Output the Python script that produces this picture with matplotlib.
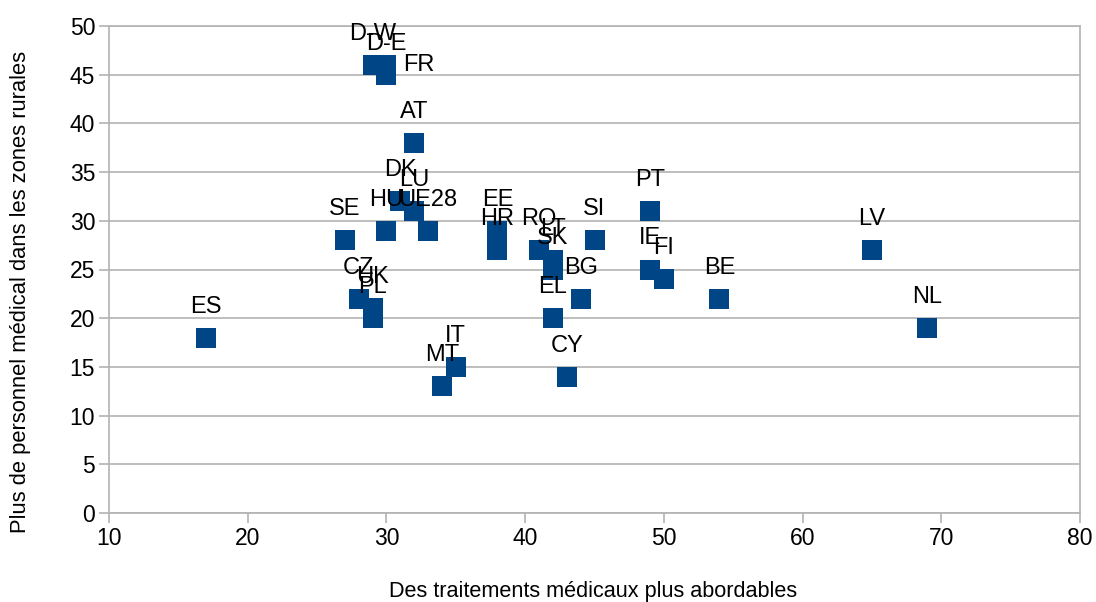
import matplotlib
matplotlib.use('Agg')
from matplotlib import pyplot as plt

plt.rcParams['font.family'] = ['Liberation Sans', 'DejaVu Sans']

# country codes with (affordable treatment, rural medical staff)
countries = ['ES', 'D-W', 'D-E', 'FR', 'AT', 'DK', 'LU', 'HU', 'UE28', 'SE',
             'CZ', 'UK', 'PL', 'MT', 'IT', 'EE', 'HR', 'RO', 'LT', 'SK',
             'EL', 'CY', 'BG', 'SI', 'PT', 'IE', 'FI', 'BE', 'LV', 'NL']
x_vals = [17, 29, 30, 30, 32, 31, 32, 30, 33, 27,
          28, 29, 29, 34, 35, 38, 38, 41, 42, 42,
          42, 43, 44, 45, 49, 49, 50, 54, 65, 69]
y_vals = [18, 46, 45, 46, 38, 32, 31, 29, 29, 28,
          22, 21, 20, 13, 15, 29, 27, 27, 26, 25,
          20, 14, 22, 28, 31, 25, 24, 22, 27, 19]

GRID = '#b3b3b3'
BLUE = '#004586'

fig = plt.figure(figsize=(10.96, 6.02), dpi=100)
ax = fig.add_axes([109 / 1096, 89 / 602, 971 / 1096, 487 / 602])

ax.scatter(x_vals, y_vals, marker='s', s=13.7 ** 2, color=BLUE,
           linewidths=0, zorder=3)

for name, x, y in zip(countries, x_vals, y_vals):
    if name == 'FR':
        # this label sits to the right of its point
        ax.annotate(name, (x, y), xytext=(17, 0), textcoords='offset pixels',
                    ha='left', va='center', fontsize=17, zorder=4)
    else:
        ax.annotate(name, (x, y), xytext=(0, 31), textcoords='offset pixels',
                    ha='center', va='center', fontsize=17, zorder=4)

ax.set_xlim(10, 80)
ax.set_ylim(0, 50)
ax.set_xticks(range(10, 81, 10))
ax.set_yticks(range(0, 51, 5))
ax.grid(axis='y', color=GRID, linewidth=1.2)
ax.set_axisbelow(True)
for side in ['left', 'bottom', 'right', 'top']:
    ax.spines[side].set_color(GRID)
    ax.spines[side].set_linewidth(1.2)
ax.tick_params(axis='both', colors=GRID, labelcolor='black', labelsize=16.5,
               length=7, width=1.2, direction='out', pad=3)

fig.text(593 / 1096, (602 - 591) / 602,
         'Des traitements médicaux plus abordables',
         ha='center', va='center', fontsize=15.6)
fig.text(21 / 1096, (602 - 292) / 602,
         'Plus de personnel médical dans les zones rurales',
         ha='center', va='center', rotation=90, fontsize=15.8)

fig.savefig('out.png', dpi=100)
